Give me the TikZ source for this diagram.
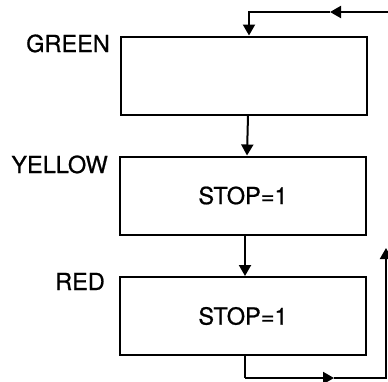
\documentclass[tikz,border=0pt]{standalone}
\usepackage{fontspec}
\setmainfont{TeX Gyre Heros}
\newfontfamily\labelfont[FakeBold=0.8]{TeX Gyre Heros}
\usetikzlibrary{arrows.meta}
\begin{document}
\begin{tikzpicture}[x=1pt,y=-1pt,
  state/.style={draw,line width=2pt,minimum width=246pt,minimum height=78pt,inner sep=0pt,
    font=\labelfont\fontsize{23.5}{28}\selectfont},
  lbl/.style={anchor=base east,inner sep=0pt,font=\labelfont\fontsize{23.5}{28}\selectfont},
  wire/.style={line width=2pt},
  arr/.style={wire,-{Triangle[length=11pt,width=12pt]}}]
\useasboundingbox (0,0) rectangle (388,381);

% state boxes
\node[state] (green)  at (244,75.5) {};
\node[state] (yellow) at (243,195.5) {STOP=1};
\node[state] (red)    at (243,316) {STOP=1};

% state names
\node[lbl] (lgreen)  at (110,52)  {GREEN};
\node[lbl] (lyellow) at (108,173) {YELLOW};
\node[lbl] (lred)    at (105,290) {RED};

% transitions down the chain
\draw[arr] ([xshift=4pt]green.south) -- ([xshift=4pt]yellow.north);
\draw[arr] ([xshift=2pt]yellow.south) -- ([xshift=2pt]red.north);

% feedback loop
\coordinate (fbin)   at (388,12);
\coordinate (fbmid)  at (330,12);
\coordinate (fbturn) at (249,12);
\draw[arr] (fbin) -- (fbmid);
\draw[arr] (fbmid) -- (fbturn) -- (fbturn |- green.north);

\coordinate (rbout)  at (245,378);
\coordinate (rbmid)  at (334,378);
\coordinate (rbturn) at (386,378);
\coordinate (rbend)  at (386,248);
\draw[wire] (rbout |- red.south) -- (rbout);
\draw[arr] (rbout) -- (rbmid);
\draw[arr] (rbmid) -- (rbturn) -- (rbend);
\end{tikzpicture}
\end{document}
